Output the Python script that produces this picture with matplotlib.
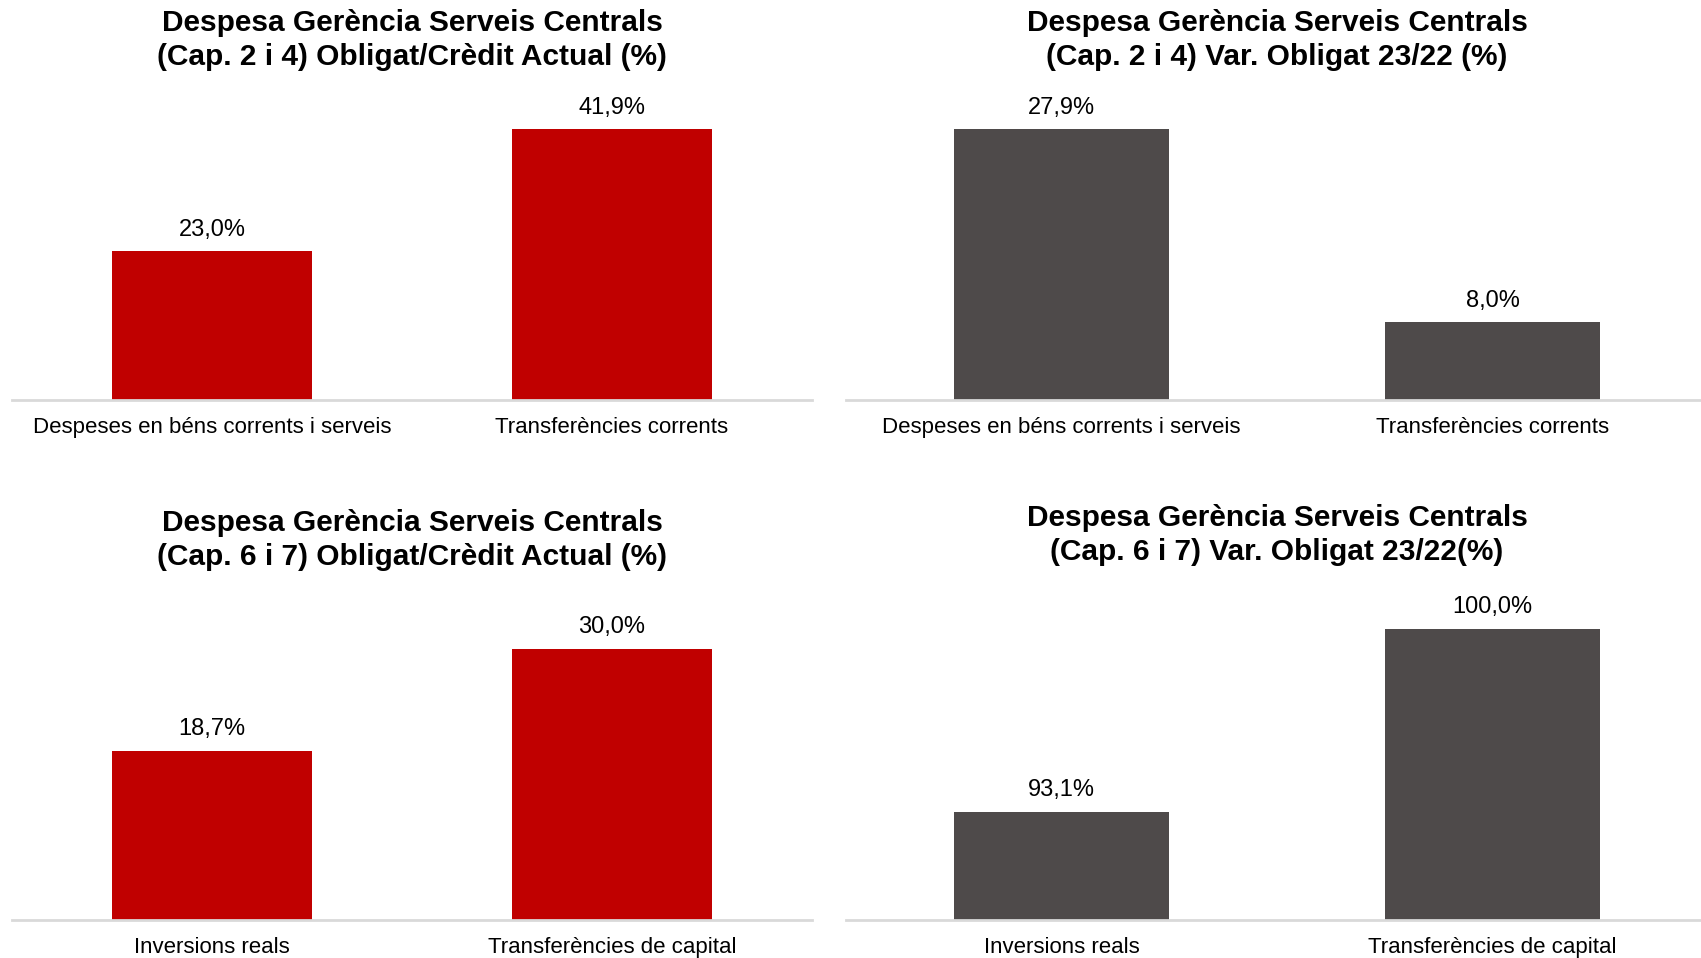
import matplotlib
matplotlib.use("Agg")
import matplotlib.pyplot as plt

plt.rcParams['font.family'] = ['Liberation Sans', 'DejaVu Sans']

# Data
cats_top = ["Despeses en béns corrents i serveis", "Transferències corrents"]
cats_bottom = ["Inversions reals", "Transferències de capital"]
oblig_credit_2_4 = [23.0, 41.9]
var_oblig_2_4 = [27.9, 8.0]
oblig_credit_6_7 = [18.7, 30.0]
var_oblig_6_7 = [93.1, 100.0]

titles = [
    "Despesa Gerència Serveis Centrals\n(Cap. 2 i 4) Obligat/Crèdit Actual (%)",
    "Despesa Gerència Serveis Centrals\n(Cap. 2 i 4) Var. Obligat 23/22 (%)",
    "Despesa Gerència Serveis Centrals\n(Cap. 6 i 7) Obligat/Crèdit Actual (%)",
    "Despesa Gerència Serveis Centrals\n(Cap. 6 i 7) Var. Obligat 23/22(%)",
]

RED = "#C00000"
GREY = "#4E4A4A"

W, H = 1701, 958
fig = plt.figure(figsize=(W / 100, H / 100), dpi=100)


def px_axes(x0, x1, ybase, ytop):
    return fig.add_axes([x0 / W, 1 - ybase / H, (x1 - x0) / W, (ybase - ytop) / H])


panels = [
    # (x0, x1, ybase, cats, values, color, ylim, title_y)
    (12, 812, 400, cats_top, oblig_credit_2_4, RED, (0, 46.4), 40),
    (846, 1708, 400, cats_top, var_oblig_2_4, GREY, (0, 30.9), 40),
    (12, 812, 920, cats_bottom, oblig_credit_6_7, RED, (0, 33.2), 540),
    (846, 1708, 920, cats_bottom, var_oblig_6_7, GREY, (89.0, 100.34), 535),
]

for i, (x0, x1, yb, cats, vals, col, ylim, ty) in enumerate(panels):
    ax = px_axes(x0, x1, yb, yb - 300)
    xs = list(range(len(cats)))
    ax.bar(xs, [v - ylim[0] for v in vals], bottom=ylim[0], width=0.5, color=col)
    ax.set_xlim(-0.5, len(cats) - 0.5)
    ax.set_ylim(*ylim)
    for x, v in zip(xs, vals):
        ax.annotate(f"{v:.1f}%".replace(".", ","), (x, v), xytext=(0, 15.5),
                    textcoords="offset points", ha="center", va="center",
                    fontsize=17, color="black")
    ax.set_xticks(xs)
    ax.set_xticklabels(cats, fontsize=16)
    ax.tick_params(axis="x", length=0, pad=12)
    ax.set_yticks([])
    for s in ["top", "right", "left"]:
        ax.spines[s].set_visible(False)
    ax.spines["bottom"].set_color("#D9D9D9")
    ax.spines["bottom"].set_linewidth(2)
    ax.patch.set_alpha(0)
    fig.text(((x0 + x1) / 2) / W, 1 - ty / H, titles[i], ha="center", va="center",
             fontsize=21.5, fontweight="bold", linespacing=1.3)

fig.savefig("out.png", dpi=100)
